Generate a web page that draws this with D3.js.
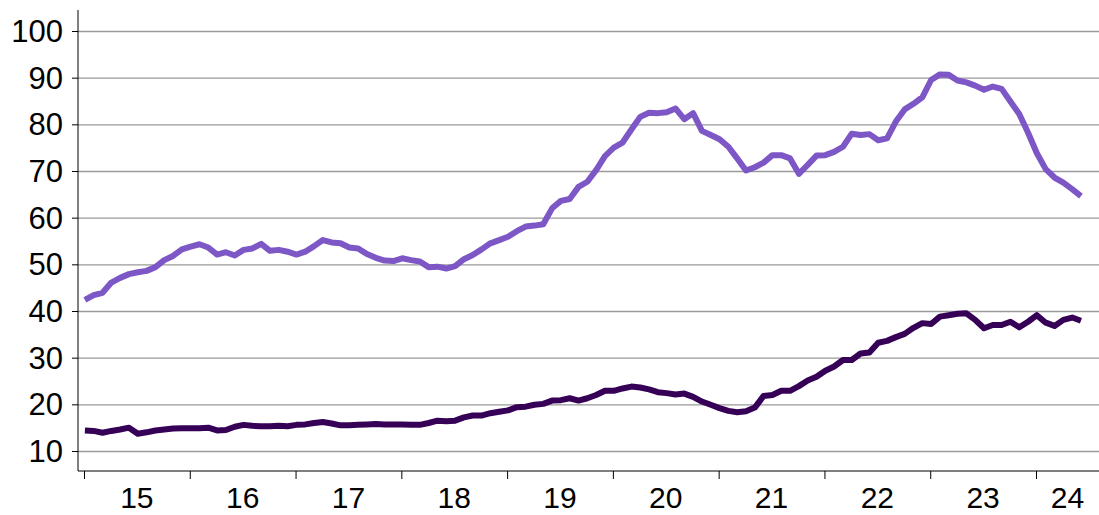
<!DOCTYPE html>
<html>
<head>
<meta charset="utf-8">
<script src="https://cdn.jsdelivr.net/npm/d3@7"></script>
<style>
    body { margin: 0; background: #fff; }
    svg { display: block; font-family: 'Liberation Sans', Arial, sans-serif; }
    .grid line { stroke: #9a9a9a; stroke-width: 1.3px; }
    .grid path { display: none; }
    .axis path, .axis line { stroke: #000; stroke-width: 1px; }
    .label { font-size: 31px; fill: #000; }
    .xlabel { font-size: 30px; fill: #000; }
</style>
</head>
<body>
<svg id="chart"></svg>
<script>
    const width = 1099;
    const height = 515;

    // monthly values, Jan 2015 to Jun 2024
    const yearLabels = ["15", "16", "17", "18", "19", "20", "21", "22", "23", "24"];
    const yTicks = [10, 20, 30, 40, 50, 60, 70, 80, 90, 100];

    const upper = [
        42.4, 43.4, 43.9, 46.1, 47.1, 47.9, 48.3, 48.6, 49.4, 50.9, 51.8, 53.2,
        53.8, 54.3, 53.6, 52.1, 52.6, 51.9, 53.1, 53.4, 54.4, 52.9, 53.1, 52.7,
        52.1, 52.7, 53.9, 55.2, 54.7, 54.5, 53.6, 53.4, 52.2, 51.4, 50.8, 50.7,
        51.3, 50.9, 50.6, 49.4, 49.5, 49.1, 49.6, 51.1, 52.0, 53.2, 54.5, 55.2,
        55.9, 57.1, 58.1, 58.3, 58.6, 62.0, 63.6, 64.0, 66.6, 67.7, 70.2, 73.2,
        75.0, 76.1, 78.9, 81.6, 82.5, 82.4, 82.6, 83.4, 81.1, 82.4, 78.6, 77.7,
        76.8, 75.2, 72.7, 70.1, 70.8, 71.8, 73.4, 73.4, 72.7, 69.4, 71.3, 73.3,
        73.4, 74.1, 75.2, 78.0, 77.7, 77.9, 76.6, 77.0, 80.6, 83.2, 84.4, 85.8,
        89.5, 90.7, 90.6, 89.4, 89.0, 88.3, 87.4, 88.1, 87.6, 84.9, 82.2, 78.2,
        73.8, 70.4, 68.6, 67.5, 66.1, 64.6
    ];

    const lower = [
        14.4, 14.3, 13.9, 14.3, 14.6, 15.0, 13.7, 14.0, 14.4, 14.6, 14.8, 14.9,
        14.9, 14.9, 15.0, 14.4, 14.5, 15.2, 15.6, 15.4, 15.3, 15.3, 15.4, 15.3,
        15.6, 15.7, 16.0, 16.2, 15.9, 15.5, 15.5, 15.6, 15.7, 15.8, 15.7, 15.7,
        15.7, 15.6, 15.6, 16.0, 16.5, 16.4, 16.5, 17.2, 17.6, 17.6, 18.1, 18.4,
        18.7, 19.4, 19.5, 19.9, 20.1, 20.8, 20.9, 21.3, 20.8, 21.3, 22.0, 22.9,
        22.9, 23.4, 23.8, 23.6, 23.2, 22.6, 22.4, 22.1, 22.3, 21.6, 20.6, 19.9,
        19.2, 18.6, 18.3, 18.5, 19.3, 21.8, 22.0, 22.9, 22.9, 23.9, 25.1, 25.9,
        27.2, 28.1, 29.5, 29.5, 30.9, 31.1, 33.2, 33.6, 34.4, 35.1, 36.4, 37.4,
        37.2, 38.8, 39.1, 39.4, 39.5, 38.1, 36.3, 37.0, 37.0, 37.7, 36.5, 37.7,
        39.1, 37.5, 36.8, 38.1, 38.6, 37.9
    ];

    const colors = { upper: "#7e57c6", lower: "#360057" };

    const left = 78, right = 1099, axisTop = 10, axisBottom = 471;

    const svg = d3.select('#chart').attr('width', width).attr('height', height);

    // month index -> x, year starts every 12 months
    const x = d3.scaleLinear().domain([0, 108]).range([84, 1036]);
    const y = d3.scaleLinear().domain([10, 100]).range([451, 31]);

    // gridlines
    svg.append('g')
        .attr('class', 'grid')
        .attr('transform', `translate(${left},0)`)
        .call(d3.axisRight(y).tickValues(yTicks).tickSize(right - left).tickFormat(''));

    // y axis
    svg.append('g')
        .attr('class', 'axis')
        .attr('transform', `translate(${left},0)`)
        .call(d3.axisLeft(y).tickValues(yTicks).tickSize(6).tickSizeOuter(0).tickFormat(''))
        .call(g => g.select('.domain').attr('d', `M0,${axisTop}V${axisBottom}`));

    svg.append('g').selectAll('text')
        .data(yTicks)
        .enter().append('text')
        .attr('class', 'label')
        .attr('x', 63)
        .attr('y', d => y(d))
        .attr('dy', '0.36em')
        .attr('text-anchor', 'end')
        .text(d => d);

    // x axis
    const yearStarts = yearLabels.map((d, i) => i * 12);
    svg.append('g')
        .attr('class', 'axis')
        .attr('transform', `translate(0,${axisBottom})`)
        .call(d3.axisBottom(x).tickValues(yearStarts).tickSize(8).tickSizeOuter(0).tickFormat(''))
        .call(g => g.select('.domain').attr('d', `M${left},0H${right}`));

    svg.append('g').selectAll('text')
        .data(yearLabels)
        .enter().append('text')
        .attr('class', 'xlabel')
        .attr('x', (d, i) => {
            const a = x(i * 12);
            const b = Math.min(x(i * 12 + 12), right);
            return (a + b) / 2;
        })
        .attr('y', 508)
        .attr('text-anchor', 'middle')
        .text(d => d);

    // lines
    const line = d3.line()
        .x((d, i) => x(i + 0.1))
        .y(d => y(d));

    svg.append('path')
        .datum(upper)
        .attr('d', line)
        .attr('fill', 'none')
        .attr('stroke', colors.upper)
        .attr('stroke-width', 6)
        .attr('stroke-linejoin', 'round');

    svg.append('path')
        .datum(lower)
        .attr('d', line)
        .attr('fill', 'none')
        .attr('stroke', colors.lower)
        .attr('stroke-width', 6)
        .attr('stroke-linejoin', 'round');
</script>
</body>
</html>
